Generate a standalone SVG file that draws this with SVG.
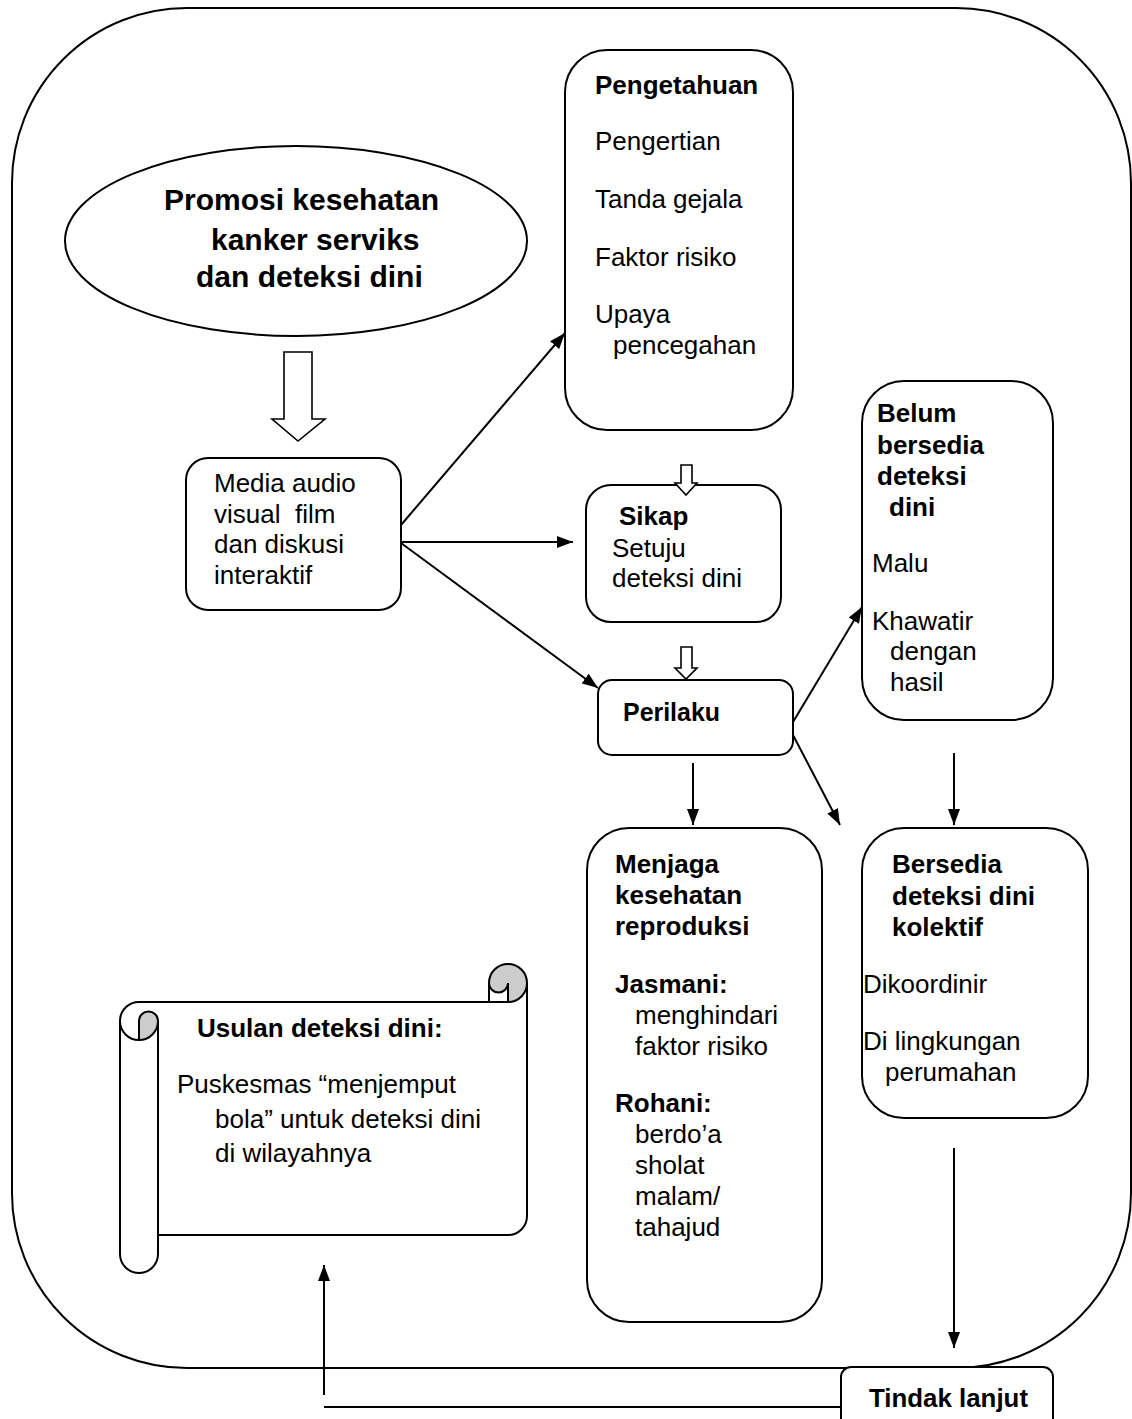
<svg xmlns="http://www.w3.org/2000/svg" width="1132" height="1419" viewBox="0 0 1132 1419">
<style>
.t{font-family:"Liberation Sans",Arial,sans-serif;font-size:26px;fill:#000}
.b{font-weight:bold}
.ti{font-family:"Liberation Sans",Arial,sans-serif;font-size:30px;font-weight:bold;fill:#000}
.box{fill:#fff;stroke:#000;stroke-width:2}
.ln{fill:none;stroke:#000;stroke-width:2}
.hol{fill:#fff;stroke:#000;stroke-width:1.6}
</style>
<defs>
<marker id="ah" viewBox="0 0 16 12" refX="16" refY="6" markerWidth="16" markerHeight="12" markerUnits="userSpaceOnUse" orient="auto">
<path d="M0,0 L16,6 L0,12 z" fill="#000"/>
</marker>
</defs>
<rect width="1132" height="1419" fill="#fff"/>
<g id="outer">
<rect x="12" y="8" width="1119" height="1360" rx="175" ry="175" class="ln"/>
</g>
<g id="promosi">
<ellipse cx="296" cy="241" rx="231" ry="95" class="box"/>
<text class="ti" x="164" y="210">Promosi kesehatan</text>
<text class="ti" x="211" y="250">kanker serviks</text>
<text class="ti" x="196" y="287">dan deteksi dini</text>
</g>
<g id="bigarrow">
<polygon class="hol" points="284,352 312,352 312,419 325,419 298,441 272,419 284,419"/>
</g>
<g id="media">
<rect x="186" y="458" width="215" height="152" rx="22" class="box"/>
<text class="t" x="214" y="492">Media audio</text>
<text class="t" x="214" y="523" xml:space="preserve">visual  film</text>
<text class="t" x="214" y="553">dan diskusi</text>
<text class="t" x="214" y="584">interaktif</text>
</g>
<g id="pengetahuan">
<rect x="565" y="50" width="228" height="380" rx="42" class="box"/>
<text class="t b" x="595" y="94">Pengetahuan</text>
<text class="t" x="595" y="150">Pengertian</text>
<text class="t" x="595" y="208">Tanda gejala</text>
<text class="t" x="595" y="266">Faktor risiko</text>
<text class="t" x="595" y="323">Upaya</text>
<text class="t" x="613" y="354">pencegahan</text>
</g>
<g id="sikap">
<rect x="586" y="485" width="195" height="137" rx="25" class="box"/>
<text class="t b" x="619" y="525">Sikap</text>
<text class="t" x="612" y="557">Setuju</text>
<text class="t" x="612" y="587">deteksi dini</text>
</g>
<g id="smallarrow1">
<polygon class="hol" points="681,465 692,465 692,483 697,483 686,495 675,483 681,483"/>
</g>
<g id="smallarrow2">
<polygon class="hol" points="681,647 692,647 692,668 697,668 686,679 675,668 681,668"/>
</g>
<g id="perilaku">
<rect x="598" y="680" width="195" height="75" rx="14" class="box"/>
<text class="t b" x="623" y="721" font-size="22" textLength="97" lengthAdjust="spacingAndGlyphs">Perilaku</text>
</g>
<g id="belum">
<rect x="862" y="381" width="191" height="339" rx="42" class="box"/>
<text class="t b" x="877" y="422">Belum</text>
<text class="t b" x="877" y="454">bersedia</text>
<text class="t b" x="877" y="485">deteksi</text>
<text class="t b" x="889" y="516">dini</text>
<text class="t" x="872" y="572">Malu</text>
<text class="t" x="872" y="630">Khawatir</text>
<text class="t" x="890" y="660">dengan</text>
<text class="t" x="890" y="691">hasil</text>
</g>
<g id="menjaga">
<rect x="587" y="828" width="235" height="494" rx="42" class="box"/>
<text class="t b" x="615" y="873">Menjaga</text>
<text class="t b" x="615" y="904">kesehatan</text>
<text class="t b" x="615" y="935">reproduksi</text>
<text class="t b" x="615" y="993">Jasmani:</text>
<text class="t" x="635" y="1024">menghindari</text>
<text class="t" x="635" y="1055">faktor risiko</text>
<text class="t b" x="615" y="1112">Rohani:</text>
<text class="t" x="635" y="1143">berdo’a</text>
<text class="t" x="635" y="1174">sholat</text>
<text class="t" x="635" y="1205">malam/</text>
<text class="t" x="635" y="1236">tahajud</text>
</g>
<g id="bersedia">
<rect x="862" y="828" width="226" height="290" rx="42" class="box"/>
<text class="t b" x="892" y="873">Bersedia</text>
<text class="t b" x="892" y="905">deteksi dini</text>
<text class="t b" x="892" y="936">kolektif</text>
<text class="t" x="863" y="993">Dikoordinir</text>
<text class="t" x="863" y="1050">Di lingkungan</text>
<text class="t" x="885" y="1081">perumahan</text>
</g>
<g id="usulan">
<path d="M139,1040 A19,19 0 0 0 158,1021 A9.5,9.5 0 0 0 139,1021 Z" fill="#ccc"/>
<path d="M508,1002 A19,19 0 1 0 489,983 A9.5,9.5 0 0 0 508,983 Z" fill="#ccc"/>
<path class="ln" d="M120,1021 A19,19 0 0 1 139,1002 L489,1002 L489,983 A19,19 0 0 1 527,983 L527,1216 A19,19 0 0 1 508,1235 L158,1235 L158,1254 A19,19 0 0 1 120,1254 Z"/>
<path class="ln" d="M489,1002 L508,1002 A19,19 0 0 0 527,983 M508,1002 L508,983 A9.5,9.5 0 0 1 489,983 M139,1040 L139,1021 A9.5,9.5 0 0 1 158,1021 A19,19 0 0 1 120,1021 M158,1021 L158,1235"/>
<text class="t b" x="197" y="1037">Usulan deteksi dini:</text>
<text class="t" x="177" y="1093">Puskesmas “menjemput</text>
<text class="t" x="215" y="1128">bola” untuk deteksi dini</text>
<text class="t" x="215" y="1162">di wilayahnya</text>
</g>
<g id="tindak">
<rect x="841" y="1367" width="212" height="70" rx="10" class="box"/>
<text class="t b" x="869" y="1407" font-size="24" textLength="159" lengthAdjust="spacingAndGlyphs">Tindak lanjut</text>
</g>
<g id="connectors">
<line class="ln" x1="401" y1="525" x2="565" y2="333" marker-end="url(#ah)"/>
<line class="ln" x1="401" y1="542" x2="573" y2="542" marker-end="url(#ah)"/>
<line class="ln" x1="401" y1="543" x2="598" y2="688" marker-end="url(#ah)"/>
<line class="ln" x1="793" y1="722" x2="862" y2="607" marker-end="url(#ah)"/>
<line class="ln" x1="793" y1="735" x2="840" y2="825" marker-end="url(#ah)"/>
<line class="ln" x1="693" y1="763" x2="693" y2="825" marker-end="url(#ah)"/>
<line class="ln" x1="954" y1="753" x2="954" y2="825" marker-end="url(#ah)"/>
<line class="ln" x1="954" y1="1148" x2="954" y2="1348" marker-end="url(#ah)"/>
<line class="ln" x1="841" y1="1407" x2="324" y2="1407"/>
<line class="ln" x1="324" y1="1395" x2="324" y2="1265" marker-end="url(#ah)"/>
</g>
</svg>
